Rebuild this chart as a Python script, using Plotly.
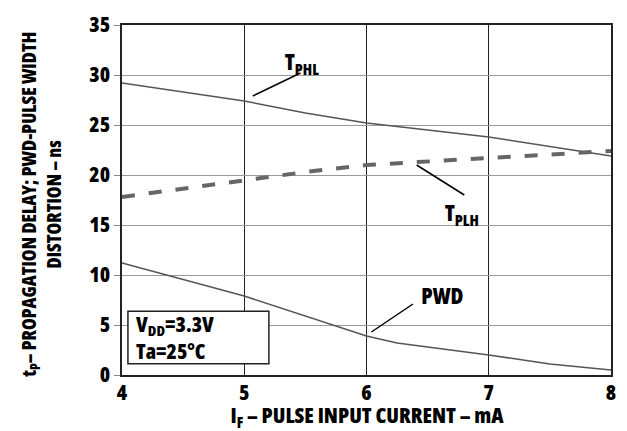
import plotly.graph_objects as go

# Data
x_phl = [4, 5, 5.5, 6, 7, 8]
tphl = [29.2, 27.4, 26.2, 25.2, 23.8, 21.9]

x_plh = [4, 5, 5.5, 6, 7, 8]
tplh = [17.8, 19.5, 20.3, 21.0, 21.7, 22.4]

x_pwd = [4, 5, 6, 6.25, 7, 7.5, 8]
pwd = [11.2, 7.9, 3.9, 3.2, 2.0, 1.1, 0.5]

x_ticks = [4, 5, 6, 7, 8]
y_ticks = [0, 5, 10, 15, 20, 25, 30, 35]

FONT = "Open Sans, Noto Sans, sans-serif"
DARK = "#222222"
W = 800

fig = go.Figure()
fig.add_trace(go.Scatter(x=x_phl, y=tphl, mode="lines",
                         line=dict(color="#555555", width=1.5), showlegend=False))
fig.add_trace(go.Scatter(x=x_plh, y=tplh, mode="lines",
                         line=dict(color="#666666", width=4, dash="13px,14px"), showlegend=False))
fig.add_trace(go.Scatter(x=x_pwd, y=pwd, mode="lines",
                         line=dict(color="#555555", width=1.5), showlegend=False))

# leader lines
leaders = [
    (5.07, 27.9, 5.46, 30.2),
    (6.41, 21.0, 6.80, 18.0),
    (6.04, 4.3, 6.38, 7.1),
]
for x0, y0, x1, y1 in leaders:
    fig.add_shape(type="line", x0=x0, y0=y0, x1=x1, y1=y1,
                  line=dict(color="black", width=1.5))

lab_font = dict(family=FONT, size=22, color="black", weight=W)
fig.add_annotation(x=5.47, y=31.2, text="T<sub>PHL</sub>", showarrow=False, font=lab_font)
fig.add_annotation(x=6.78, y=16.1, text="T<sub>PLH</sub>", showarrow=False, font=lab_font)
fig.add_annotation(x=6.62, y=8.05, text="PWD", showarrow=False, font=lab_font)

# condition box
fig.add_shape(type="rect", xref="paper", yref="paper",
              x0=(128 - 122) / 495, x1=(270.7 - 122) / 495,
              y0=(375.5 - 364) / 354.5, y1=(375.5 - 311) / 354.5,
              line=dict(color=DARK, width=1.5), fillcolor="white")
fig.add_annotation(xref="paper", yref="paper", x=(134 - 122) / 495, y=(375.5 - 338) / 354.5,
                   xanchor="left", yanchor="middle", align="left", showarrow=False,
                   text="V<sub>DD</sub>=3.3V<br>Ta=25°C",
                   font=dict(family=FONT, size=21, color="black", weight=W))

# axis titles
fig.add_annotation(xref="paper", yref="paper", x=0.5, y=(375.5 - 417.5) / 354.5,
                   xanchor="center", yanchor="middle", showarrow=False,
                   text="I<sub>F</sub> – PULSE INPUT CURRENT – mA",
                   font=dict(family=FONT, size=21.5, color="black", weight=W))
fig.add_annotation(xref="paper", yref="paper", x=(41 - 122) / 495, y=0.489,
                   xanchor="center", yanchor="middle", showarrow=False, textangle=-90,
                   text="t<sub>P</sub>– PROPAGATION DELAY; PWD-PULSE WIDTH<br>DISTORTION – ns",
                   font=dict(family=FONT, size=19, color="black", weight=W))

fig.update_layout(
    width=627, height=431,
    margin=dict(l=122, r=10, t=21, b=56),
    paper_bgcolor="white", plot_bgcolor="white",
    font=dict(family=FONT, color="black"),
    xaxis=dict(range=[4, 8], tickvals=x_ticks, showgrid=True, gridcolor=DARK, gridwidth=1,
               showline=True, linecolor=DARK, linewidth=1.5, mirror=True,
               ticks="", ticklabelstandoff=-2, zeroline=False,
               tickfont=dict(family=FONT, size=21, color="black", weight=W)),
    yaxis=dict(range=[0, 35], tickvals=y_ticks, showgrid=True, gridcolor="#999999", gridwidth=1,
               showline=True, linecolor=DARK, linewidth=1.5, mirror=True,
               ticks="outside", ticklen=6, tickcolor="#888888", zeroline=False,
               tickfont=dict(family=FONT, size=21, color="black", weight=W)),
)

post = (
    "document.body.style.margin='0';"
    "var s=document.createElement('style');"
    "s.textContent='svg text{font-stretch:condensed !important;}';"
    "document.head.appendChild(s);"
    "var gd=document.getElementById('{plot_id}');"
    "Plotly.newPlot(gd, gd.data, gd.layout, {displayModeBar:false});"
)
fig.write_html("out.html", post_script=post, config=dict(displayModeBar=False))
